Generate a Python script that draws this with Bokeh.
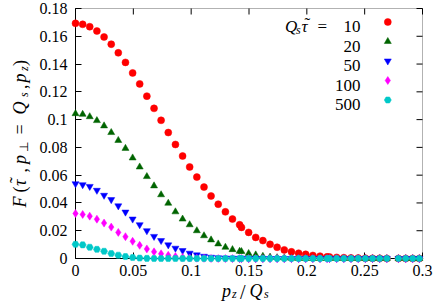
from math import pi
from bokeh.plotting import figure
from bokeh.models import Range1d, FixedTicker, Label, BoxAnnotation
from bokeh.embed import file_html
from bokeh.resources import INLINE

# ---------------- data ----------------
pz = [0.0000, 0.0062, 0.0123, 0.0185, 0.0247, 0.0309, 0.0370, 0.0432, 0.0494, 0.0555,
      0.0617, 0.0679, 0.0740, 0.0802, 0.0864, 0.0926, 0.0987, 0.1049, 0.1111, 0.1172,
      0.1234, 0.1296, 0.1357, 0.1419, 0.1435, 0.1497, 0.1558, 0.1620, 0.1682, 0.1743,
      0.1805, 0.1867, 0.1929, 0.1990, 0.2052, 0.2114, 0.2175, 0.2196, 0.2258, 0.2320,
      0.2382, 0.2444, 0.2506, 0.2568, 0.2630, 0.2692, 0.2792, 0.2855, 0.2915, 0.2973]

F_10 = [0.1693, 0.1686, 0.1669, 0.1638, 0.1595, 0.1543, 0.1481, 0.1412, 0.1336, 0.1257,
        0.1169, 0.1081, 0.0995, 0.0907, 0.0821, 0.0738, 0.0659, 0.0586, 0.0514, 0.0450,
        0.0391, 0.0336, 0.0284, 0.0243, 0.0224, 0.0188, 0.0152, 0.0129, 0.0102, 0.0081,
        0.0062, 0.0048, 0.0038, 0.0030, 0.0022, 0.0017, 0.0012, 0.0011, 0.0008, 0.0006,
        0.0004, 0.0003, 0.0002, 0.0001, 0.0001, 0.0000, 0.0000, 0.0000, 0.0000, 0.0000]

F_20 = [0.1043, 0.1038, 0.1021, 0.0993, 0.0955, 0.0907, 0.0850, 0.0793, 0.0724, 0.0659,
        0.0590, 0.0523, 0.0459, 0.0398, 0.0336, 0.0284, 0.0243, 0.0200, 0.0164, 0.0134,
        0.0105, 0.0081, 0.0064, 0.0052, 0.0050, 0.0036, 0.0026, 0.0016, 0.0010, 0.0006,
        0.0004, 0.0002, 0.0001, 0.0000, 0.0000, 0.0000, 0.0000, 0.0000, 0.0000, 0.0000,
        0.0000, 0.0000, 0.0000, 0.0000, 0.0000, 0.0000, 0.0000, 0.0000, 0.0000, 0.0000]

F_50 = [0.0538, 0.0531, 0.0519, 0.0491, 0.0455, 0.0424, 0.0379, 0.0334, 0.0284, 0.0243,
        0.0200, 0.0159, 0.0129, 0.0098, 0.0074, 0.0057, 0.0038, 0.0026, 0.0016, 0.0009,
        0.0005, 0.0003, 0.0002, 0.0001, 0.0001, 0.0000, 0.0000, 0.0000, 0.0000, 0.0000,
        0.0000, 0.0000, 0.0000, 0.0000, 0.0000, 0.0000, 0.0000, 0.0000, 0.0000, 0.0000,
        0.0000, 0.0000, 0.0000, 0.0000, 0.0000, 0.0000, 0.0000, 0.0000, 0.0000, 0.0000]

F_100 = [0.0324, 0.0317, 0.0305, 0.0283, 0.0255, 0.0226, 0.0188, 0.0157, 0.0124, 0.0095,
         0.0069, 0.0048, 0.0034, 0.0023, 0.0014, 0.0008, 0.0004, 0.0002, 0.0001, 0.0000,
         0.0000, 0.0000, 0.0000, 0.0000, 0.0000, 0.0000, 0.0000, 0.0000, 0.0000, 0.0000,
         0.0000, 0.0000, 0.0000, 0.0000, 0.0000, 0.0000, 0.0000, 0.0000, 0.0000, 0.0000,
         0.0000, 0.0000, 0.0000, 0.0000, 0.0000, 0.0000, 0.0000, 0.0000, 0.0000, 0.0000]

F_500 = [0.0102, 0.0098, 0.0081, 0.0066, 0.0052, 0.0036, 0.0024, 0.0014, 0.0007, 0.0003,
         0.0001, 0.0000, 0.0000, 0.0000, 0.0000, 0.0000, 0.0000, 0.0000, 0.0000, 0.0000,
         0.0000, 0.0000, 0.0000, 0.0000, 0.0000, 0.0000, 0.0000, 0.0000, 0.0000, 0.0000,
         0.0000, 0.0000, 0.0000, 0.0000, 0.0000, 0.0000, 0.0000, 0.0000, 0.0000, 0.0000,
         0.0000, 0.0000, 0.0000, 0.0000, 0.0000, 0.0000, 0.0000, 0.0000, 0.0000, 0.0000]

tau_labels = ["10", "20", "50", "100", "500"]

xtick_vals = [0, 0.05, 0.1, 0.15, 0.2, 0.25, 0.3]
xtick_labels = ["0", "0.05", "0.1", "0.15", "0.2", "0.25", "0.3"]
ytick_vals = [0, 0.02, 0.04, 0.06, 0.08, 0.1, 0.12, 0.14, 0.16, 0.18]
ytick_labels = ["0", "0.02", "0.04", "0.06", "0.08", "0.1", "0.12", "0.14", "0.16", "0.18"]

# ---------------- styles / layout ----------------
series = [
    (F_10, "circle", "#ff0000", 7),
    (F_20, "triangle", "#006400", 7),
    (F_50, "inverted_triangle", "#0000ff", 7),
    (F_100, "diamond", "#ff00ff", 8),
    (F_500, "hex", "#00c8c8", 7),
]

FONT = "Liberation Serif"
X0, X1 = xtick_vals[0], xtick_vals[-1]
Y0, Y1 = ytick_vals[0], ytick_vals[-1]
W, H = 436, 304
# where the data box sits, in canvas pixels
FL, FR, FT, FB = 75, 422, 8, 258
TICK = 6  # inward tick length in px


def xd(px):
    return X0 + (px - FL) * (X1 - X0) / (FR - FL)


def yd(py):
    return Y0 + (FB - py) * (Y1 - Y0) / (FB - FT)


# the plotting frame fills the canvas; the axes are pinned to the data box
p = figure(width=W, height=H, output_backend="svg", toolbar_location=None, title=None,
           x_range=Range1d(xd(0), xd(W)), y_range=Range1d(yd(H), yd(0)),
           min_border_left=0, min_border_right=0, min_border_top=0, min_border_bottom=0)
p.xgrid.visible = False
p.ygrid.visible = False
p.outline_line_color = None
p.background_fill_color = "white"
p.border_fill_color = "white"

for ax, ticks, labels, loc, bnds in ((p.xaxis[0], xtick_vals, xtick_labels, Y0, (X0, X1)),
                                     (p.yaxis[0], ytick_vals, ytick_labels, X0, (Y0, Y1))):
    ax.fixed_location = loc
    ax.bounds = bnds
    ax.level = "underlay"
    ax.ticker = FixedTicker(ticks=ticks)
    ax.major_tick_in = TICK
    ax.major_tick_out = 0
    ax.minor_tick_line_color = None
    ax.axis_line_color = "black"
    ax.major_tick_line_color = "black"
    ax.major_label_overrides = {v: s for v, s in zip(ticks, labels)}
    ax.major_label_text_font = FONT
    ax.major_label_text_font_size = "16px"
    ax.major_label_text_color = "black"
p.xaxis[0].major_label_standoff = 6
p.yaxis[0].major_label_standoff = 8

# border box of the data area and mirrored inward ticks on top / right
p.add_layout(BoxAnnotation(left=X0, right=X1, bottom=Y0, top=Y1, fill_alpha=0,
                           line_color="black", line_width=1, level="underlay"))
p.segment(x0=xtick_vals, y0=[Y1] * len(xtick_vals), x1=xtick_vals,
          y1=[Y1 - TICK * (Y1 - Y0) / (FB - FT)] * len(xtick_vals),
          line_color="black", line_width=1)
p.segment(x0=[X1] * len(ytick_vals), y0=ytick_vals,
          x1=[X1 - TICK * (X1 - X0) / (FR - FL)] * len(ytick_vals), y1=ytick_vals,
          line_color="black", line_width=1)

for vals, marker, color, size in series:
    p.scatter(pz, vals, marker=marker, size=size, fill_color=color,
              line_color=color, line_width=0.5)

# ---------------- legend (label right-aligned, marker on the right) -------
leg_text_x = 360
leg_marker_x = 387.3
leg_rows = [26, 45.5, 65, 84.5, 104]
for (vals, marker, color, size), lab, by in zip(series, tau_labels, leg_rows):
    p.add_layout(Label(x=xd(leg_text_x), y=yd(by), text=lab, text_align="right",
                       text_baseline="alphabetic", text_font=FONT,
                       text_font_size="17px", text_color="black"))
    p.scatter([xd(leg_marker_x)], [yd(by - 4.5)], marker=marker, size=size,
              fill_color=color, line_color=color, line_width=0.5)


def put(parts, angle=0.0):
    for t, st, sz, px, py in parts:
        p.add_layout(Label(x=xd(px), y=yd(py), text=t, angle=angle, text_align="left",
                           text_baseline="alphabetic", text_font=FONT,
                           text_font_style=st, text_font_size=sz, text_color="black"))


TILDE = "\u02dc"

put([
    ("Q", "italic", "17px", 284.5, 26),
    ("s", "italic", "12px", 295.5, 29),
    ("\u03c4", "italic", "17px", 301, 26),
    (TILDE, "normal", "17px", 304, 22.5),
    ("=", "normal", "17px", 317, 26),
])

# x title  p_z / Q_s
put([
    ("p", "italic", "18px", 221.5, 290),
    ("z", "italic", "12px", 231.5, 293.5),
    ("/", "normal", "20px", 239.5, 291),
    ("Q", "italic", "18px", 249, 290),
    ("s", "italic", "12px", 263.5, 293.5),
])

# y title  F(tau~, p_perp = Q_s, p_z), read bottom to top
put([
    ("F", "italic", "18px", 19.5, 207),
    ("(", "normal", "18px", 19.5, 192),
    ("\u03c4", "italic", "18px", 19.5, 185.5),
    (TILDE, "normal", "18px", 16.5, 182.5),
    (",", "normal", "18px", 19.5, 172),
    ("p", "italic", "18px", 19.5, 163.5),
    ("\u22a5", "normal", "12px", 23, 151),
    ("=", "normal", "18px", 19.5, 134),
    ("Q", "italic", "18px", 19.5, 114),
    ("s", "italic", "12px", 23, 96.5),
    (",", "normal", "18px", 19.5, 88.5),
    ("p", "italic", "18px", 19.5, 82),
    ("z", "italic", "12px", 23, 70.5),
    (")", "normal", "18px", 19.5, 65.5),
], angle=pi / 2)

open("out.html", "w").write(file_html(p, INLINE))
